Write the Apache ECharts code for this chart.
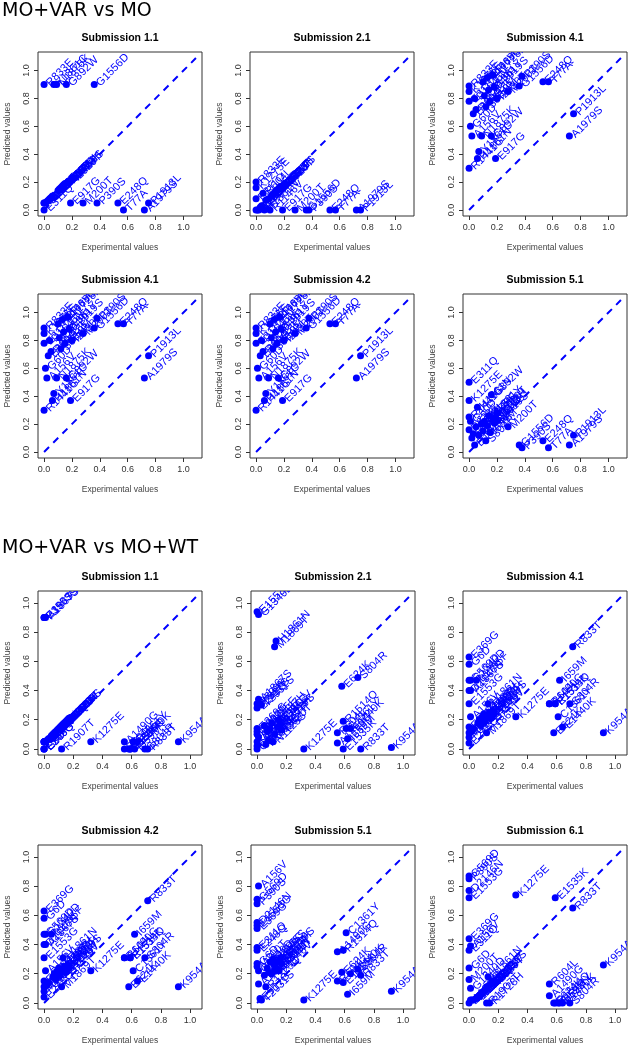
<!DOCTYPE html>
<html>
<head>
<meta charset="utf-8">
<script src="https://cdn.jsdelivr.net/npm/echarts@6/dist/echarts.min.js"></script>
<style>
  html, body { margin: 0; padding: 0; background: #fff; }
  #chart { width: 633px; height: 1050px; }
</style>
</head>
<body>
<div id="chart"></div>
<script>
const BLUE = '#0000ff';
const FONT = 'Liberation Sans';

// ---- MO+VAR vs MO ----
const sec1Names = ['R833E','K1275E','E311Q','R1441G','G60D','A156V','E369G','D1646N','R604L','H1861N',
  'Y1861C','N1875K','R1146V','L1949F','S804R','E1068G','C1361Y','I659M','G892W','R1728H',
  'G2019S','I2020T','E917G','M200T','G1556D','P390S','E248Q','T77A','A1979S','P1913L'];
const sec1Exp = [0,0,0,0,0.01,0.02,0.03,0.04,0.05,0.06,
  0.07,0.09,0.10,0.11,0.12,0.13,0.14,0.15,0.16,0.17,
  0.18,0.20,0.19,0.28,0.36,0.38,0.53,0.57,0.72,0.75];
const sec1Range = [0, 1.09];
const s1Sub11 = [0.90,0.05,0.00,0.05,0.05,0.06,0.07,0.08,0.09,0.10,
  0.90,0.90,0.14,0.15,0.16,0.17,0.18,0.19,0.90,0.20,
  0.21,0.22,0.05,0.05,0.90,0.05,0.05,0.00,0.00,0.05];
const s1Sub21 = [0.20,0.16,0.08,0.00,0.00,0.00,0.02,0.03,0.12,0.00,
  0.07,0.08,0.00,0.10,0.11,0.12,0.13,0.14,0.15,0.16,
  0.17,0.18,0.00,0.00,0.00,0.00,0.00,0.00,0.00,0.00];
const s1Sub41 = [0.89,0.85,0.78,0.30,0.60,0.53,0.69,0.80,0.72,0.37,
  0.42,0.53,0.92,0.82,0.74,0.95,0.86,0.78,0.53,0.97,
  0.88,0.80,0.37,0.85,0.89,0.96,0.92,0.92,0.53,0.69];
const s1Sub42 = [0.89,0.85,0.78,0.30,0.60,0.53,0.69,0.80,0.72,0.37,
  0.42,0.53,0.92,0.82,0.74,0.95,0.86,0.78,0.53,0.97,
  0.88,0.80,0.37,0.85,0.89,0.96,0.92,0.92,0.53,0.69];
const s1Sub51 = [0.16,0.37,0.50,0.25,0.22,0.10,0.13,0.05,0.18,0.32,
  0.12,0.20,0.15,0.22,0.08,0.19,0.26,0.14,0.41,0.24,
  0.21,0.28,0.23,0.18,0.05,0.03,0.08,0.03,0.05,0.12];

// ---- MO+VAR vs MO+WT ----
const sec2Names = ['G569D','D2146N','E1553G','E369G','E311Q','G6D','M200T','P390S','E248Q','A156V',
  'G1340D','A1867S','E917G','T2031S','L1795F','R1325Q','R1628P','K544E','Y1699C','N1437H',
  'N1125S','R1907T','M1869T','H1861N','R1728H','R1146V','G2019S','I2020T','K1275E','A1490G',
  'R604L','E624K','E1535K','R1514Q','C1361Y','I659M','E1440K','S804R','R833T','K954A'];
const sec2Exp = [0,0,0,0,0,0,0,0,0,0.01,
  0.01,0.01,0.02,0.03,0.05,0.06,0.07,0.08,0.09,0.10,
  0.11,0.12,0.12,0.13,0.14,0.15,0.16,0.17,0.32,0.55,
  0.55,0.58,0.59,0.59,0.61,0.62,0.64,0.69,0.71,0.92];
const sec2Range = [0, 1.04];
const s2Sub11 = [0.05,0.05,0.90,0.00,0.05,0.00,0.05,0.90,0.00,0.05,
  0.05,0.90,0.06,0.07,0.09,0.10,0.11,0.12,0.13,0.14,
  0.15,0.00,0.16,0.17,0.18,0.19,0.20,0.21,0.05,0.05,
  0.00,0.00,0.00,0.00,0.05,0.00,0.05,0.00,0.00,0.05];
const s2Sub21 = [0.00,0.02,0.94,0.14,0.10,0.05,0.12,0.31,0.28,0.08,
  0.92,0.34,0.31,0.30,0.16,0.03,0.12,0.06,0.14,0.18,
  0.05,0.10,0.70,0.74,0.15,0.20,0.17,0.13,0.00,0.04,
  0.11,0.43,0.00,0.19,0.14,0.07,0.14,0.49,0.00,0.01];
const s2Sub41 = [0.47,0.40,0.31,0.63,0.15,0.58,0.11,0.08,0.04,0.22,
  0.47,0.40,0.12,0.14,0.47,0.18,0.20,0.16,0.22,0.24,
  0.19,0.22,0.11,0.31,0.25,0.21,0.26,0.24,0.22,0.31,
  0.31,0.11,0.31,0.31,0.22,0.47,0.15,0.31,0.70,0.11];
const s2Sub42 = [0.47,0.40,0.31,0.63,0.15,0.58,0.11,0.08,0.04,0.22,
  0.47,0.40,0.12,0.14,0.47,0.18,0.20,0.16,0.22,0.24,
  0.19,0.22,0.11,0.31,0.25,0.21,0.26,0.24,0.22,0.31,
  0.31,0.11,0.31,0.31,0.22,0.47,0.15,0.31,0.70,0.11];
const s2Sub51 = [0.71,0.55,0.53,0.51,0.38,0.27,0.25,0.68,0.36,0.80,
  0.22,0.13,0.03,0.02,0.19,0.11,0.24,0.21,0.28,0.20,
  0.30,0.26,0.22,0.24,0.28,0.22,0.31,0.27,0.02,0.35,
  0.15,0.21,0.14,0.36,0.48,0.06,0.20,0.23,0.19,0.08];
const s2Sub61 = [0.87,0.77,0.72,0.44,0.36,0.24,0.16,0.85,0.00,0.39,
  0.10,0.02,0.02,0.02,0.03,0.04,0.05,0.06,0.07,0.08,
  0.09,0.00,0.11,0.18,0.00,0.13,0.15,0.14,0.74,0.05,
  0.13,0.00,0.72,0.00,0.00,0.00,0.00,0.00,0.65,0.26];

const tickValues = [0, 0.2, 0.4, 0.6, 0.8, 1.0];
const sectionTitles = ['MO+VAR vs MO', 'MO+VAR vs MO+WT'];

const panels = [
  { title: 'Submission 1.1', names: sec1Names, exp: sec1Exp, pred: s1Sub11, range: sec1Range },
  { title: 'Submission 2.1', names: sec1Names, exp: sec1Exp, pred: s1Sub21, range: sec1Range },
  { title: 'Submission 4.1', names: sec1Names, exp: sec1Exp, pred: s1Sub41, range: sec1Range },
  { title: 'Submission 4.1', names: sec1Names, exp: sec1Exp, pred: s1Sub41, range: sec1Range },
  { title: 'Submission 4.2', names: sec1Names, exp: sec1Exp, pred: s1Sub42, range: sec1Range },
  { title: 'Submission 5.1', names: sec1Names, exp: sec1Exp, pred: s1Sub51, range: sec1Range },
  { title: 'Submission 1.1', names: sec2Names, exp: sec2Exp, pred: s2Sub11, range: sec2Range },
  { title: 'Submission 2.1', names: sec2Names, exp: sec2Exp, pred: s2Sub21, range: sec2Range },
  { title: 'Submission 4.1', names: sec2Names, exp: sec2Exp, pred: s2Sub41, range: sec2Range },
  { title: 'Submission 4.2', names: sec2Names, exp: sec2Exp, pred: s2Sub42, range: sec2Range },
  { title: 'Submission 5.1', names: sec2Names, exp: sec2Exp, pred: s2Sub51, range: sec2Range },
  { title: 'Submission 6.1', names: sec2Names, exp: sec2Exp, pred: s2Sub61, range: sec2Range }
];

// layout of the panels (px)
const colLeft = [[38, 250, 463], [38, 251, 463]];
const rowTop = [52, 294, 591, 845];
const sectionTop = [2, 539];
const BOX = 164;

// R pads the data range by 4% on each side
function padRange(r) {
  const d = (r[1] - r[0]) * 0.04;
  return [r[0] - d, r[1] + d];
}

function makeRender(names) {
  return function (params, api) {
    const pt = api.coord([api.value(0), api.value(1)]);
    const cs = params.coordSys;
    return {
      type: 'group',
      clipPath: { type: 'rect', shape: { x: cs.x, y: cs.y, width: cs.width, height: cs.height } },
      children: [
        { type: 'circle', shape: { cx: pt[0], cy: pt[1], r: 3.5 }, style: { fill: BLUE } },
        {
          type: 'text', x: pt[0] + 4, y: pt[1], rotation: Math.PI / 4,
          style: {
            text: names[params.dataIndex], fill: BLUE,
            font: '11px "' + FONT + '"',
            align: 'left', verticalAlign: 'middle',
            textAlign: 'left', textVerticalAlign: 'middle'
          }
        }
      ]
    };
  };
}

let grids = [], xAxes = [], yAxes = [], series = [], graphics = [];

panels.forEach(function (p, i) {
  const sec = i < 6 ? 0 : 1;
  const row = Math.floor(i / 3);
  const col = i % 3;
  const left = colLeft[sec][col];
  const top = rowTop[row];
  const lim = padRange(p.range);

  grids.push({
    left: left, top: top, width: BOX, height: BOX,
    show: true, borderColor: '#333', borderWidth: 1, backgroundColor: 'transparent'
  });

  const axisCommon = {
    gridIndex: i, type: 'value', min: lim[0], max: lim[1],
    axisLine: { show: false, onZero: false },
    splitLine: { show: false },
    axisTick: { customValues: tickValues, length: 4, lineStyle: { color: '#333' } },
    nameLocation: 'middle',
    nameTextStyle: { fontSize: 8.5, color: '#444', fontFamily: FONT }
  };
  xAxes.push(Object.assign({}, axisCommon, {
    axisLabel: { customValues: tickValues, margin: 7, fontSize: 9, color: '#333', fontFamily: FONT,
      formatter: function (v) { return v.toFixed(1); } },
    name: 'Experimental values', nameGap: 27
  }));
  yAxes.push(Object.assign({}, axisCommon, {
    axisLabel: { customValues: tickValues, margin: 7, rotate: 90, fontSize: 9, color: '#333', fontFamily: FONT,
      formatter: function (v) { return v.toFixed(1); } },
    name: 'Predicted values', nameGap: 26
  }));

  series.push({
    type: 'line', xAxisIndex: i, yAxisIndex: i,
    data: [[p.range[0], p.range[0]], [p.range[1], p.range[1]]],
    symbol: 'none', silent: true,
    lineStyle: { color: BLUE, width: 2, type: [7, 6] }
  });
  series.push({
    type: 'custom', xAxisIndex: i, yAxisIndex: i,
    data: p.exp.map(function (x, k) { return [x, p.pred[k]]; }),
    renderItem: makeRender(p.names)
  });

  graphics.push({
    type: 'text', x: left + BOX / 2, y: top - 14,
    style: { text: p.title, font: 'bold 10.5px "' + FONT + '"', fill: '#000',
      align: 'center', verticalAlign: 'middle', textAlign: 'center', textVerticalAlign: 'middle' }
  });
});

sectionTitles.forEach(function (t, k) {
  graphics.push({
    type: 'text', x: 2, y: sectionTop[k],
    style: { text: t, font: '19px "DejaVu Sans"', fill: '#000',
      align: 'left', verticalAlign: 'top', textAlign: 'left', textVerticalAlign: 'top' }
  });
});

const chart = echarts.init(document.getElementById('chart'));
const option = {
  animation: false,
  backgroundColor: '#fff',
  grid: grids,
  xAxis: xAxes,
  yAxis: yAxes,
  series: series,
  graphic: graphics
};
chart.setOption(option);
</script>
</body>
</html>
